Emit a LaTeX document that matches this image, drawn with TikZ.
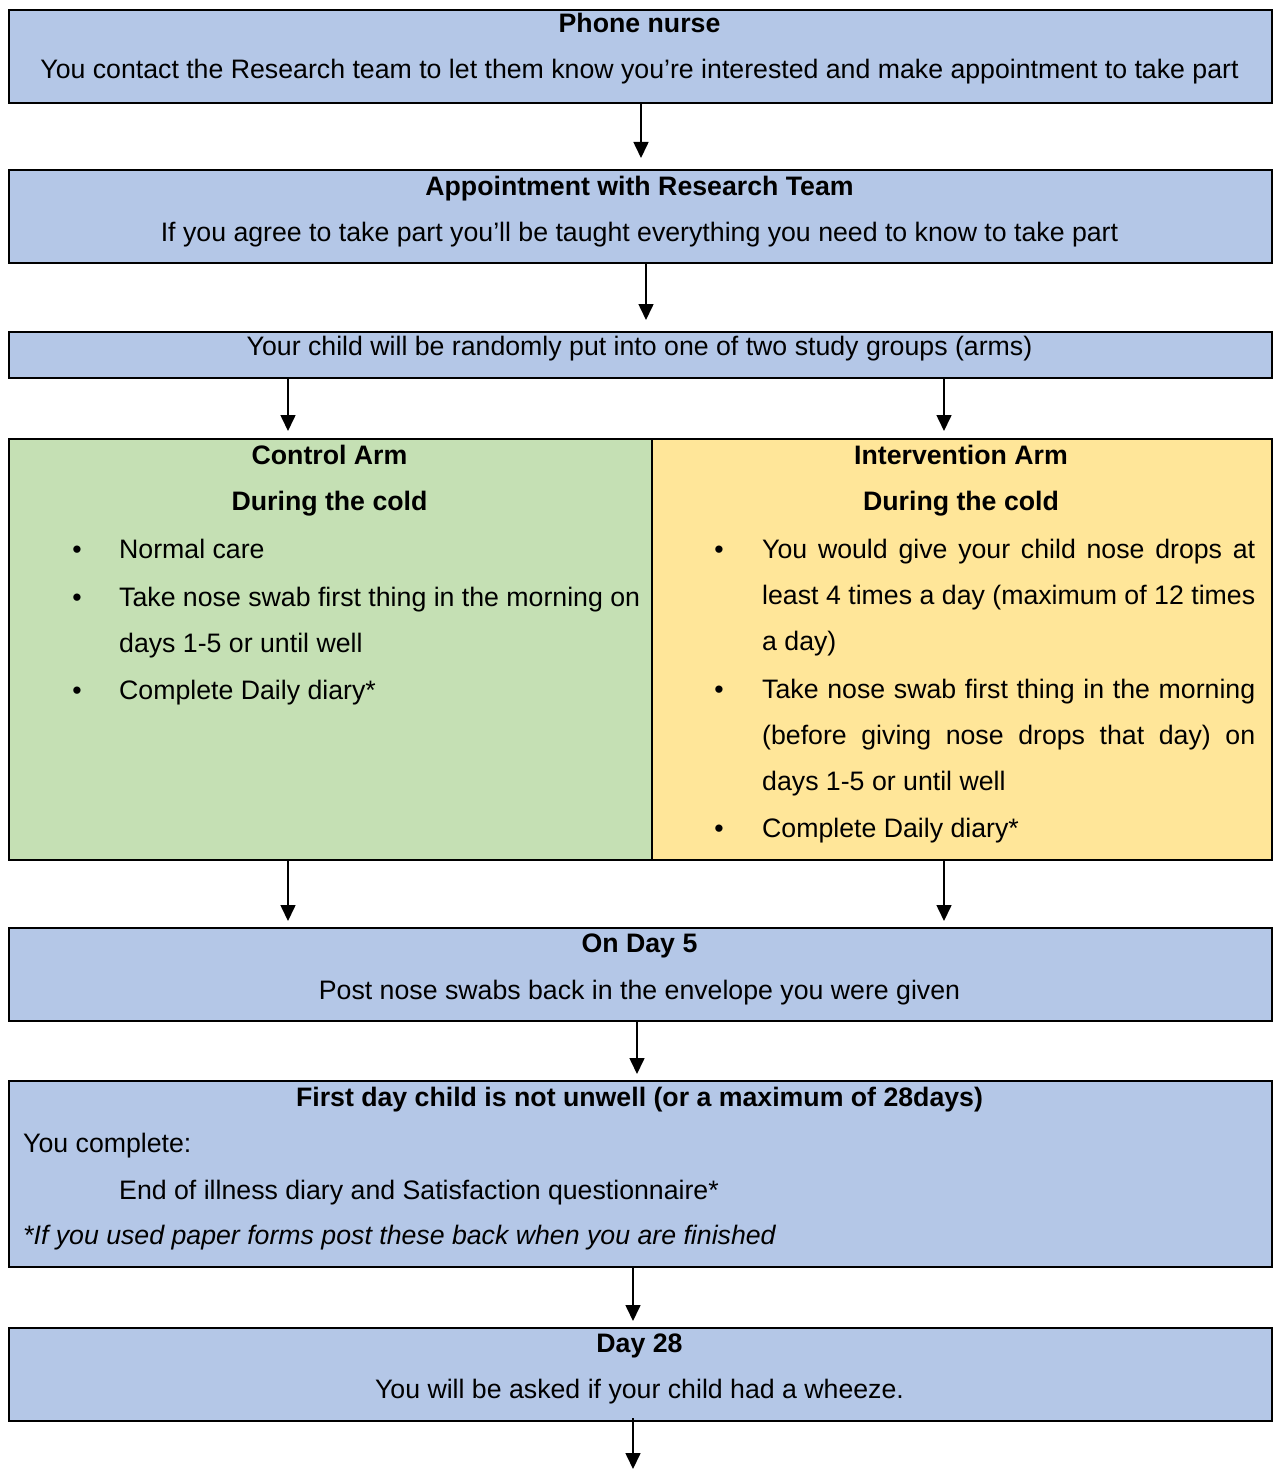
\documentclass[tikz,border=0pt]{standalone}
\usepackage{fontspec}
\setmainfont{Liberation Sans}
\usetikzlibrary{arrows.meta}
\definecolor{bluef}{HTML}{B4C7E7}
\definecolor{greenf}{HTML}{C5E0B4}
\definecolor{yellowf}{HTML}{FFE699}
\begin{document}
\begin{tikzpicture}[x=1pt,y=-1pt,
  every node/.style={font=\fontsize{26.7pt}{46pt}\selectfont},
  box/.style={draw=black, line width=2pt, inner sep=0pt, anchor=north west},
  tc/.style={inner sep=0pt, anchor=base},
  tl/.style={inner sep=0pt, anchor=base west},
  bul/.style={inner sep=0pt, anchor=base},
  arr/.style={line width=1.6pt, -{Triangle[length=16pt,width=15pt]}}]
\useasboundingbox (0,0) rectangle (1274,1477);
% boxes
\node[box, fill=bluef, minimum width=1263pt, minimum height=93pt] (b1) at (8,9) {};
\node[box, fill=bluef, minimum width=1263pt, minimum height=93pt] (b2) at (8,169) {};
\node[box, fill=bluef, minimum width=1263pt, minimum height=46pt] (b3) at (8,331) {};
\node[box, fill=greenf, minimum width=643pt, minimum height=421pt] (bc) at (8,438) {};
\node[box, fill=yellowf, minimum width=620pt, minimum height=421pt] (bi) at (651,438) {};
\node[box, fill=bluef, minimum width=1263pt, minimum height=93pt] (b5) at (8,927) {};
\node[box, fill=bluef, minimum width=1263pt, minimum height=186pt] (b6) at (8,1080) {};
\node[box, fill=bluef, minimum width=1263pt, minimum height=93pt] (b7) at (8,1327) {};
% texts
\node[tc] (t1a) at (639.5,33) {\bfseries Phone nurse};
\node[tc] (t1b) at (639.5,79) {You contact the Research team to let them know you’re interested and make appointment to take part};
\node[tc] (t2a) at (639.5,195) {\bfseries Appointment with Research Team};
\node[tc] (t2b) at (639.5,241) {If you agree to take part you’ll be taught everything you need to know to take part};
\node[tc] (t3a) at (639.5,355) {Your child will be randomly put into one of two study groups (arms)};
% control arm
\node[tc] (tca) at (329.5,464) {\bfseries Control Arm};
\node[tc] (tcb) at (329.5,510) {\bfseries During the cold};
\node[bul] (cb1) at (77,558) {•};
\node[tl] (cl1) at (119,558) {Normal care};
\node[bul] (cb2) at (77,606) {•};
\node[tl] (cl2) at (119,606) {Take nose swab first thing in the morning on};
\node[tl] (cl3) at (119,652) {days 1-5 or until well};
\node[bul] (cb3) at (77,699) {•};
\node[tl] (cl4) at (119,699) {Complete Daily diary*};
% intervention arm
\node[tc] (tia) at (961,464) {\bfseries Intervention Arm};
\node[tc] (tib) at (961,510) {\bfseries During the cold};
\node[bul] (ib1) at (719,558) {•};
\node[tl] (il1) at (762,558) {\makebox[493pt][s]{You would give your child nose drops at}};
\node[tl] (il2) at (762,604) {\makebox[493pt][s]{least 4 times a day (maximum of 12 times}};
\node[tl] (il3) at (762,650) {a day)};
\node[bul] (ib2) at (719,698) {•};
\node[tl] (il4) at (762,698) {\makebox[493pt][s]{Take nose swab first thing in the morning}};
\node[tl] (il5) at (762,744) {\makebox[493pt][s]{(before giving nose drops that day) on}};
\node[tl] (il6) at (762,790) {days 1-5 or until well};
\node[bul] (ib3) at (719,837) {•};
\node[tl] (il7) at (762,837) {Complete Daily diary*};
% day 5
\node[tc] (t5a) at (639.5,952) {\bfseries On Day 5};
\node[tc] (t5b) at (639.5,999) {Post nose swabs back in the envelope you were given};
% first day
\node[tc] (t6a) at (639.5,1106) {\bfseries First day child is not unwell (or a maximum of 28days)};
\node[tl] (t6b) at (23,1152) {You complete:};
\node[tl] (t6c) at (119,1199) {End of illness diary and Satisfaction questionnaire*};
\node[tl] (t6d) at (23,1244) {\itshape *If you used paper forms post these back when you are finished};
% day 28
\node[tc] (t7a) at (639.5,1352) {\bfseries Day 28};
\node[tc] (t7b) at (639.5,1398) {You will be asked if your child had a wheeze.};
% arrow columns
\coordinate (x1) at (641,0);
\coordinate (x2) at (646,0);
\coordinate (xl) at (288,0);
\coordinate (xr) at (944,0);
\coordinate (x5) at (637,0);
\coordinate (x6) at (633,0);
\coordinate (xend) at (633,1469);
% connectors
\draw[arr] (x1 |- b1.south) -- ([yshift=11pt]x1 |- b2.north);
\draw[arr] (x2 |- b2.south) -- ([yshift=11pt]x2 |- b3.north);
\draw[arr] (xl |- b3.south) -- ([yshift=7pt]xl |- bc.north);
\draw[arr] (xr |- b3.south) -- ([yshift=7pt]xr |- bi.north);
\draw[arr] (xl |- bc.south) -- ([yshift=6pt]xl |- b5.north);
\draw[arr] (xr |- bi.south) -- ([yshift=6pt]xr |- b5.north);
\draw[arr] (x5 |- b5.south) -- ([yshift=6pt]x5 |- b6.north);
\draw[arr] (x6 |- b6.south) -- ([yshift=6pt]x6 |- b7.north);
\draw[arr] ([yshift=4pt]x6 |- b7.south) -- (xend);
\end{tikzpicture}
\end{document}
